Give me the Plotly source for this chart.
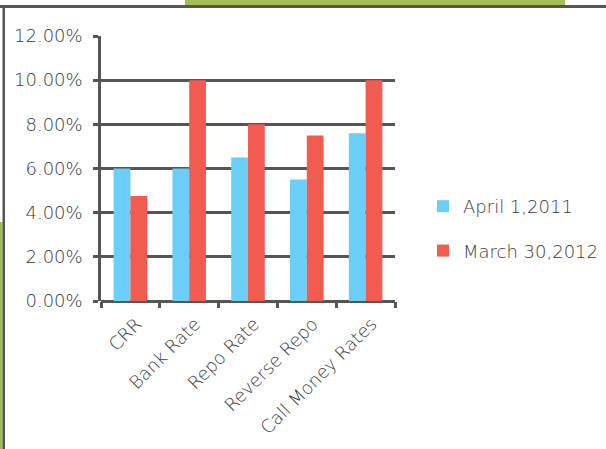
import plotly.graph_objects as go

categories = ["CRR", "Bank Rate", "Repo Rate", "Reverse Repo", "Call Money Rates"]
april_2011 = [6.00, 6.00, 6.50, 5.50, 7.60]
march_2012 = [4.75, 10.00, 8.00, 7.50, 10.00]
series_names = ["April 1,2011", "March 30,2012"]
y_ticks = [0, 2, 4, 6, 8, 10, 12]
y_tick_labels = [f"{v:.2f}%" for v in y_ticks]

BLUE = "#6BCEF6"
RED = "#F15B50"
GRAY = "#555555"
TEXT = "#3a3a3a"
GREEN = "#A3BE54"
FONT = "DejaVu Sans"

W, H = 606, 449
L, R, T, B = 101, 395, 36, 301  # plot area in px


def px_x(x):
    return (x - L) / (R - L)


def px_y(y):
    return (B - y) / (B - T)


fig = go.Figure()
fig.add_trace(go.Bar(x=categories, y=april_2011, name=series_names[0],
                     marker=dict(color=BLUE, line=dict(width=0)), legendgroup="a"))
fig.add_trace(go.Bar(x=categories, y=march_2012, name=series_names[1],
                     marker=dict(color=RED, line=dict(width=0)), legendgroup="b"))

shapes = [
    dict(type="rect", xref="paper", yref="paper", x0=px_x(185), x1=px_x(565),
         y0=px_y(0), y1=px_y(5), fillcolor=GREEN, line=dict(width=0), layer="above"),
    dict(type="rect", xref="paper", yref="paper", x0=px_x(0), x1=px_x(606),
         y0=px_y(5), y1=px_y(8), fillcolor=GRAY, line=dict(width=0), layer="above"),
    dict(type="rect", xref="paper", yref="paper", x0=px_x(0), x1=px_x(2.5),
         y0=px_y(222), y1=px_y(449), fillcolor=GREEN, line=dict(width=0), layer="above"),
    dict(type="rect", xref="paper", yref="paper", x0=px_x(2.5), x1=px_x(5),
         y0=px_y(5), y1=px_y(449), fillcolor=GRAY, line=dict(width=0), layer="above"),
]

fig.update_layout(
    width=W, height=H,
    margin=dict(l=L, r=W - R, t=T, b=H - B, pad=0, autoexpand=False),
    paper_bgcolor="white", plot_bgcolor="white",
    barmode="group", bargap=0.43, bargroupgap=0,
    font=dict(family=FONT, size=18, color=TEXT, weight=300),
    showlegend=True,
    legend=dict(x=px_x(423), y=px_y(188), xanchor="left", yanchor="top",
                font=dict(family=FONT, size=18, color=TEXT, weight=300),
                tracegroupgap=18, bgcolor="rgba(0,0,0,0)", itemwidth=30),
    shapes=shapes,
)
fig.update_xaxes(
    type="category", tickangle=-45, showline=False, showgrid=False,
    ticks="outside", tickson="boundaries", ticklen=6, tickwidth=2.5, tickcolor=GRAY,
    tickfont=dict(family=FONT, size=18, color=TEXT, weight=300), zeroline=False,
    ticklabelstandoff=8, ticklabelshift=6, automargin=False,
)
fig.update_yaxes(
    range=[0, 12], tickvals=y_ticks, ticktext=y_tick_labels,
    showline=True, linewidth=2.5, linecolor=GRAY, mirror=False,
    showgrid=True, gridcolor=GRAY, gridwidth=2.5,
    zeroline=True, zerolinecolor=GRAY, zerolinewidth=2.5,
    ticks="outside", ticklen=5, tickwidth=2.5, tickcolor=GRAY,
    tickfont=dict(family=FONT, size=18, color=TEXT, weight=300), ticklabelstandoff=7,
    automargin=False,
)

fig.write_html("out.html")
